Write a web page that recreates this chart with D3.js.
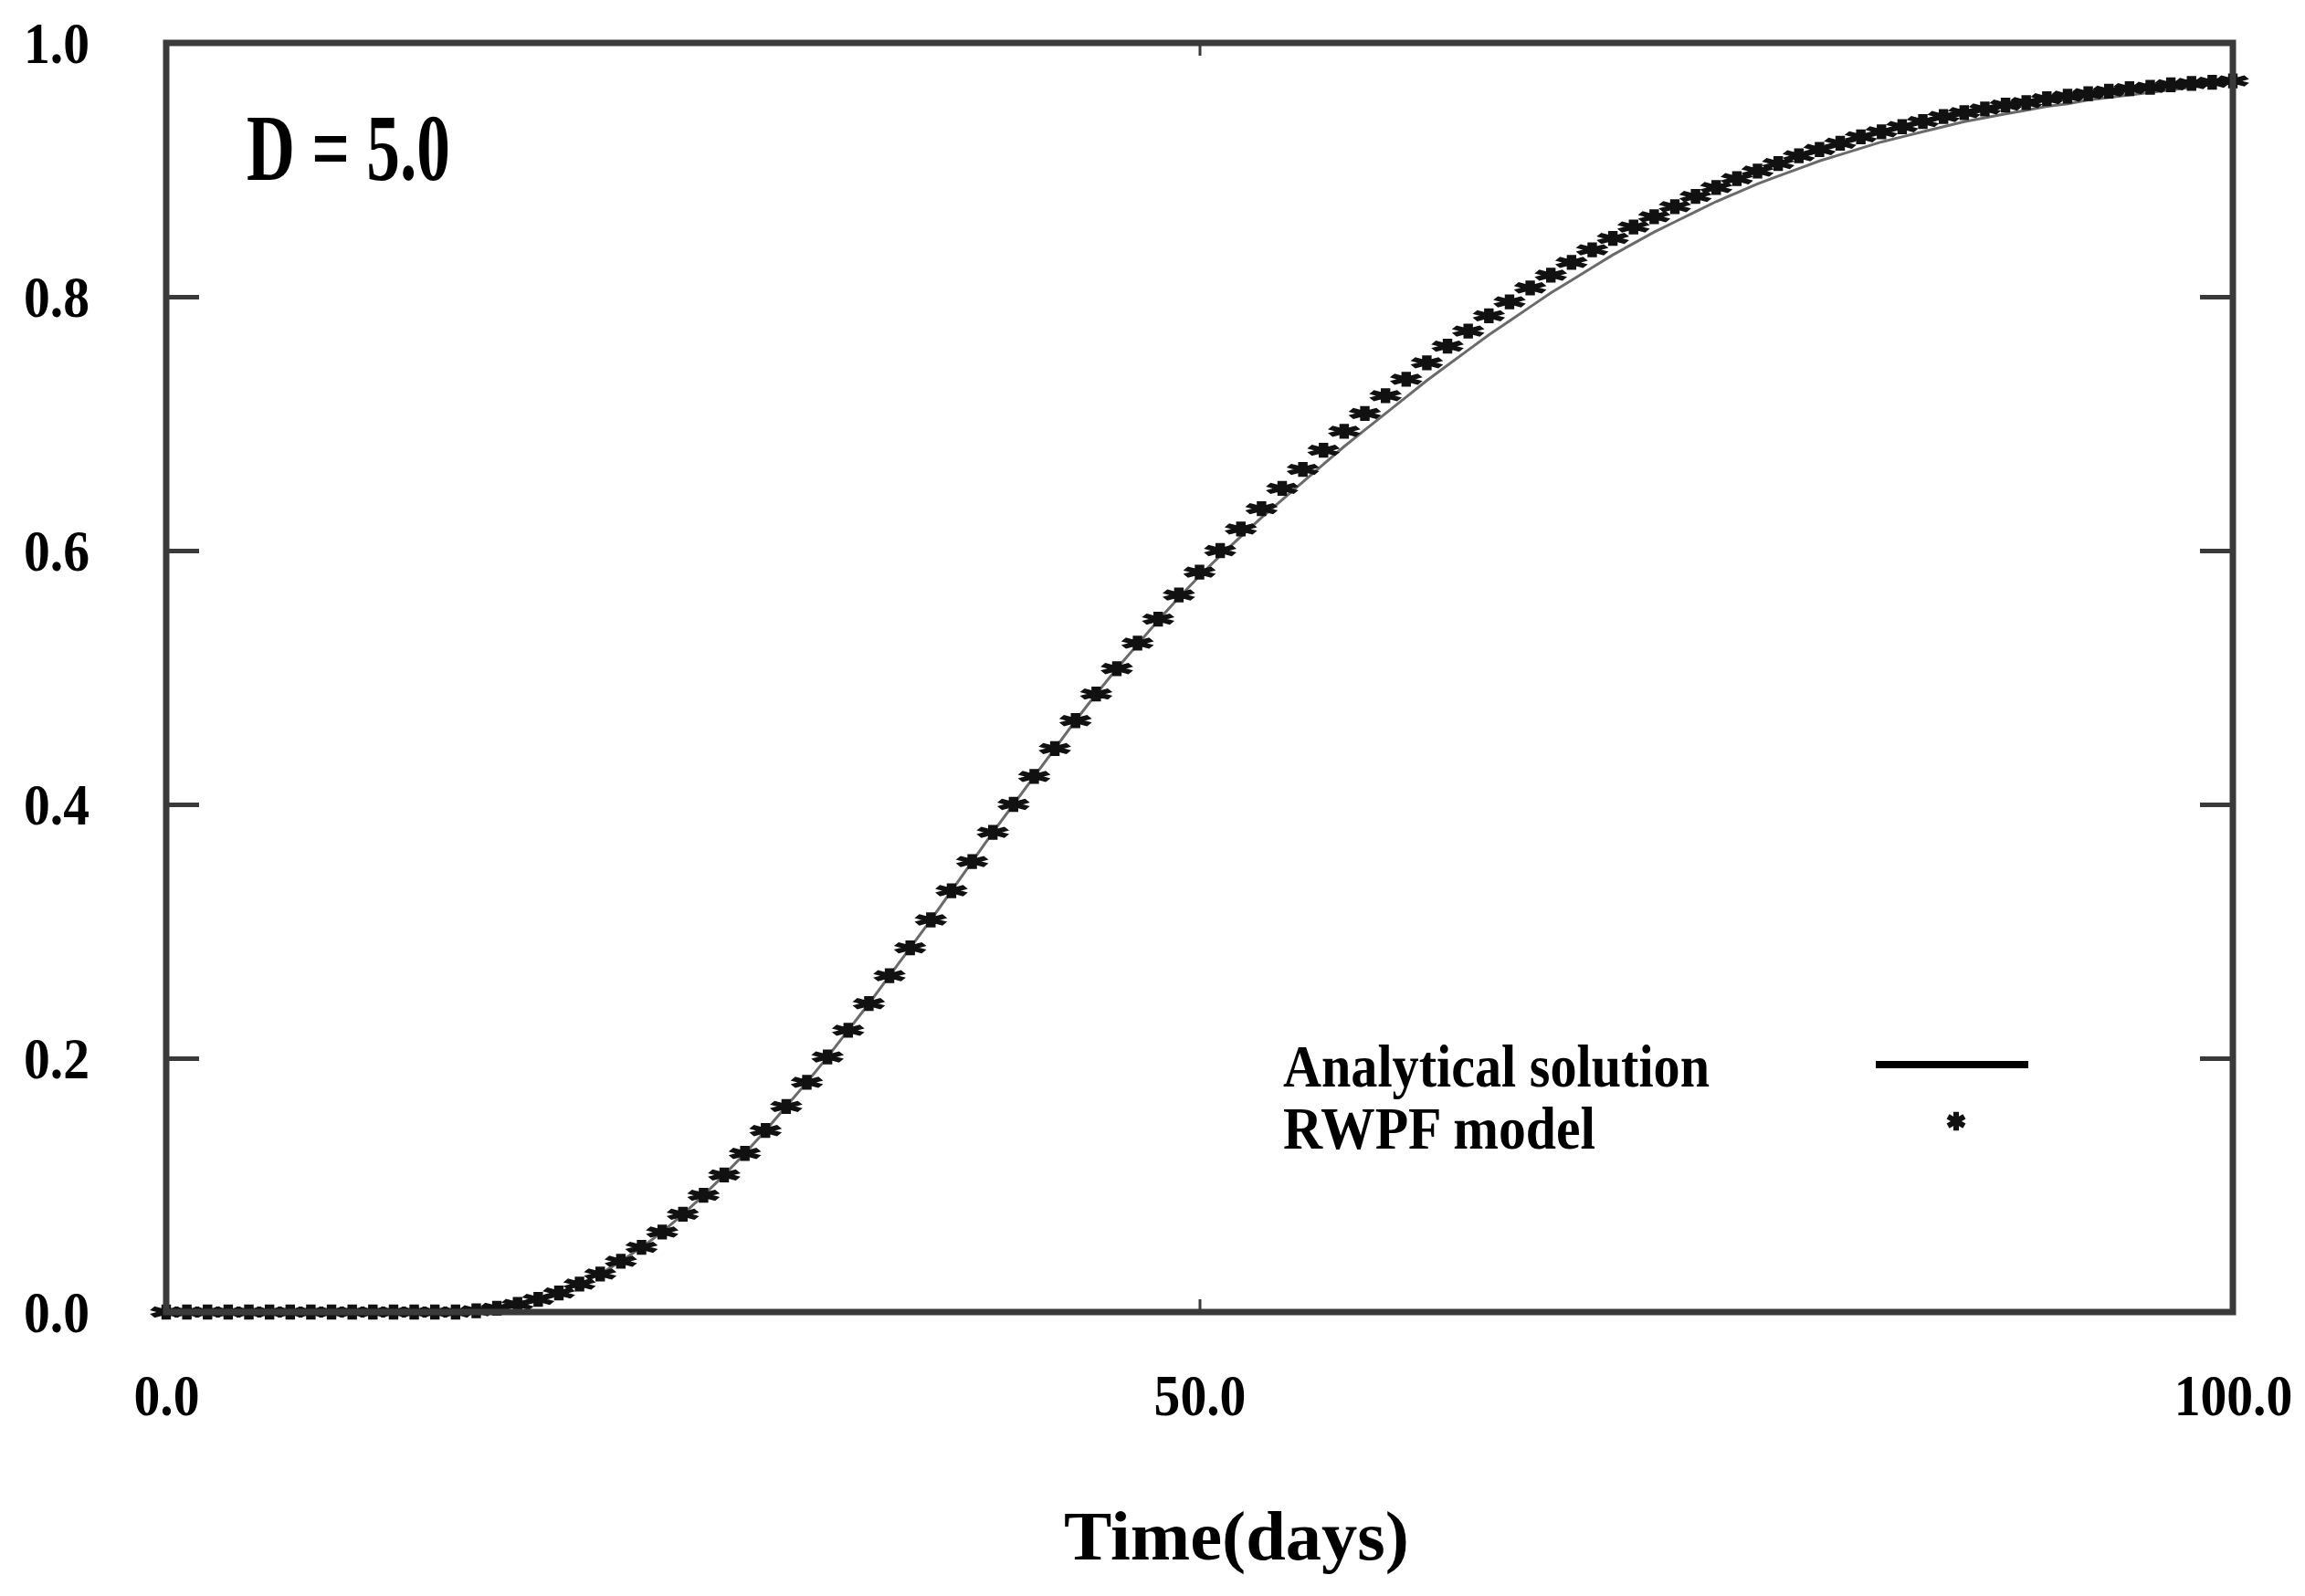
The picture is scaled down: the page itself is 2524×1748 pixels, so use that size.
<!DOCTYPE html>
<html>
<head>
<meta charset="utf-8">
<script src="https://cdn.jsdelivr.net/npm/d3@7"></script>
<style>
    body { margin: 0; background: #fff; }
    text { font-family: 'Liberation Serif', 'Times New Roman', serif; font-weight: bold; fill: #000; }
</style>
</head>
<body>
<svg id="chart" width="2524" height="1748"></svg>
<script>
// time in days, one reading per day
const days = d3.range(0, 101)

// RWPF model (the * markers)
const rwpf = [
    0, 0, 0, 0, 0, 0, 0, 0, 0, 0,
    0, 0, 0, 0, 0, 0.001, 0.003, 0.006, 0.010, 0.015,
    0.022, 0.030, 0.040, 0.051, 0.063, 0.077, 0.092, 0.108, 0.125, 0.143,
    0.162, 0.181, 0.201, 0.222, 0.243, 0.265, 0.287, 0.309, 0.332, 0.355,
    0.378, 0.400, 0.422, 0.444, 0.466, 0.487, 0.507, 0.527, 0.546, 0.565,
    0.583, 0.600, 0.617, 0.633, 0.649, 0.664, 0.679, 0.694, 0.708, 0.722,
    0.735, 0.748, 0.761, 0.773, 0.785, 0.796, 0.807, 0.817, 0.827, 0.837,
    0.846, 0.855, 0.863, 0.871, 0.879, 0.886, 0.893, 0.899, 0.905, 0.911,
    0.916, 0.921, 0.926, 0.930, 0.934, 0.938, 0.942, 0.945, 0.948, 0.951,
    0.953, 0.956, 0.958, 0.960, 0.962, 0.964, 0.965, 0.967, 0.968, 0.969,
    0.970
]

// analytical solution (thin grey line), a little under the markers after day 50
const analytical = [
    0, 0, 0, 0, 0, 0, 0, 0, 0, 0,
    0, 0, 0, 0, 0, 0.001, 0.003, 0.006, 0.010, 0.015,
    0.022, 0.030, 0.040, 0.051, 0.063, 0.077, 0.092, 0.108, 0.125, 0.143,
    0.162, 0.181, 0.201, 0.222, 0.243, 0.265, 0.287, 0.309, 0.332, 0.355,
    0.378, 0.400, 0.422, 0.444, 0.466, 0.487, 0.507, 0.526, 0.545, 0.563,
    0.580, 0.596, 0.611, 0.626, 0.640, 0.654, 0.668, 0.682, 0.695, 0.708,
    0.721, 0.734, 0.746, 0.758, 0.770, 0.781, 0.792, 0.803, 0.813, 0.823,
    0.833, 0.842, 0.851, 0.859, 0.867, 0.875, 0.882, 0.889, 0.895, 0.901,
    0.907, 0.912, 0.917, 0.922, 0.926, 0.930, 0.934, 0.938, 0.941, 0.944,
    0.947, 0.950, 0.952, 0.955, 0.957, 0.959, 0.961, 0.963, 0.965, 0.967,
    0.969
]

const xTicks = [0, 50, 100]
const xTickLabels = ['0.0', '50.0', '100.0']
const yTicks = [0, 0.2, 0.4, 0.6, 0.8, 1.0]
const yTickLabels = ['0.0', '0.2', '0.4', '0.6', '0.8', '1.0']

const legendItems = ['Analytical solution', 'RWPF model']
const legendWidths = [467, 342]

const margin = {left: 182, top: 47, right: 79, bottom: 311}
const width = 2524 - margin.left - margin.right
const height = 1748 - margin.top - margin.bottom

const svg = d3.select('#chart')
const g = svg.append('g')
    .attr('transform', 'translate(' + margin.left + ',' + margin.top + ')')

const x = d3.scaleLinear().domain([0, 100]).range([0, width])
const y = d3.scaleLinear().domain([0, 1]).range([height, 0])

// squeeze text a bit horizontally, the original lettering is narrow
function squeeze(sel, f){
    sel.each(function(){
        let w = this.getComputedTextLength()
        d3.select(this)
            .attr('textLength', w * f)
            .attr('lengthAdjust', 'spacingAndGlyphs')
    })
}

// left axis, ticks pointing inward
let yAxis = g.append('g')
    .call(d3.axisLeft(y)
        .tickValues(yTicks)
        .tickFormat((d, i) => yTickLabels[i])
        .tickSize(-36)
        .tickPadding(84))
yAxis.select('.domain').remove()
yAxis.selectAll('line').attr('stroke', '#3a3a3a').attr('stroke-width', 5)
yAxis.selectAll('text')
    .attr('font-size', 64)
    .attr('dy', '0.34em')
    .call(squeeze, 0.9)

// right side ticks
let yRight = g.append('g')
    .attr('transform', 'translate(' + width + ',0)')
    .call(d3.axisRight(y).tickValues(yTicks).tickSize(-36).tickFormat(''))
yRight.select('.domain').remove()
yRight.selectAll('line').attr('stroke', '#3a3a3a').attr('stroke-width', 5)

// bottom axis
let xAxis = g.append('g')
    .attr('transform', 'translate(0,' + height + ')')
    .call(d3.axisBottom(x)
        .tickValues(xTicks)
        .tickFormat((d, i) => xTickLabels[i])
        .tickSize(-14)
        .tickPadding(68))
xAxis.select('.domain').remove()
xAxis.selectAll('line').attr('stroke', '#3a3a3a').attr('stroke-width', 3)
xAxis.selectAll('text')
    .attr('font-size', 64)
    .call(squeeze, 0.9)

// top ticks
let xTop = g.append('g')
    .call(d3.axisTop(x).tickValues(xTicks).tickSize(-14).tickFormat(''))
xTop.select('.domain').remove()
xTop.selectAll('line').attr('stroke', '#3a3a3a').attr('stroke-width', 3)

// analytical line
const line = d3.line()
    .x((d, i) => x(days[i]))
    .y(d => y(d))

g.append('path')
    .datum(analytical)
    .attr('d', line)
    .attr('fill', 'none')
    .attr('stroke', '#6a6a6a')
    .attr('stroke-width', 3)

// RWPF markers
const star = d3.symbol().type(d3.symbolAsterisk).size(520)

g.selectAll('.mark')
    .data(rwpf)
    .enter()
    .append('path')
        .attr('class', 'mark')
        .attr('d', star)
        .attr('transform', (d, i) => 'translate(' + x(days[i]) + ',' + y(d) + ') scale(1.3,0.6)')
        .attr('fill', 'none')
        .attr('stroke', '#111')
        .attr('stroke-width', 8)

// frame
g.append('rect')
    .attr('x', 0)
    .attr('y', 0)
    .attr('width', width)
    .attr('height', height)
    .attr('fill', 'none')
    .attr('stroke', '#3a3a3a')
    .attr('stroke-width', 7)

// D = 5.0 label
g.append('text')
    .attr('x', 88)
    .attr('y', 150)
    .attr('font-size', 104)
    .attr('textLength', 223)
    .attr('lengthAdjust', 'spacingAndGlyphs')
    .text('D = 5.0')

// legend
let legend = g.append('g')
    .attr('transform', 'translate(' + (1405 - margin.left) + ',' + (1190 - margin.top) + ')')

legend.selectAll('text')
    .data(legendItems)
    .enter()
    .append('text')
        .attr('x', 0)
        .attr('y', (d, i) => i * 68)
        .attr('font-size', 66)
        .attr('textLength', (d, i) => legendWidths[i])
        .attr('lengthAdjust', 'spacingAndGlyphs')
        .text(d => d)

legend.append('line')
    .attr('x1', 649)
    .attr('x2', 816)
    .attr('y1', -24)
    .attr('y2', -24)
    .attr('stroke', '#000')
    .attr('stroke-width', 8)

legend.append('path')
    .attr('d', d3.symbol().type(d3.symbolAsterisk).size(300))
    .attr('transform', 'translate(737,38)')
    .attr('fill', 'none')
    .attr('stroke', '#111')
    .attr('stroke-width', 6)

// x title
svg.append('text')
    .attr('x', 1354)
    .attr('y', 1708)
    .attr('text-anchor', 'middle')
    .attr('font-size', 77)
    .attr('textLength', 378)
    .attr('lengthAdjust', 'spacingAndGlyphs')
    .text('Time(days)')
</script>
</body>
</html>
